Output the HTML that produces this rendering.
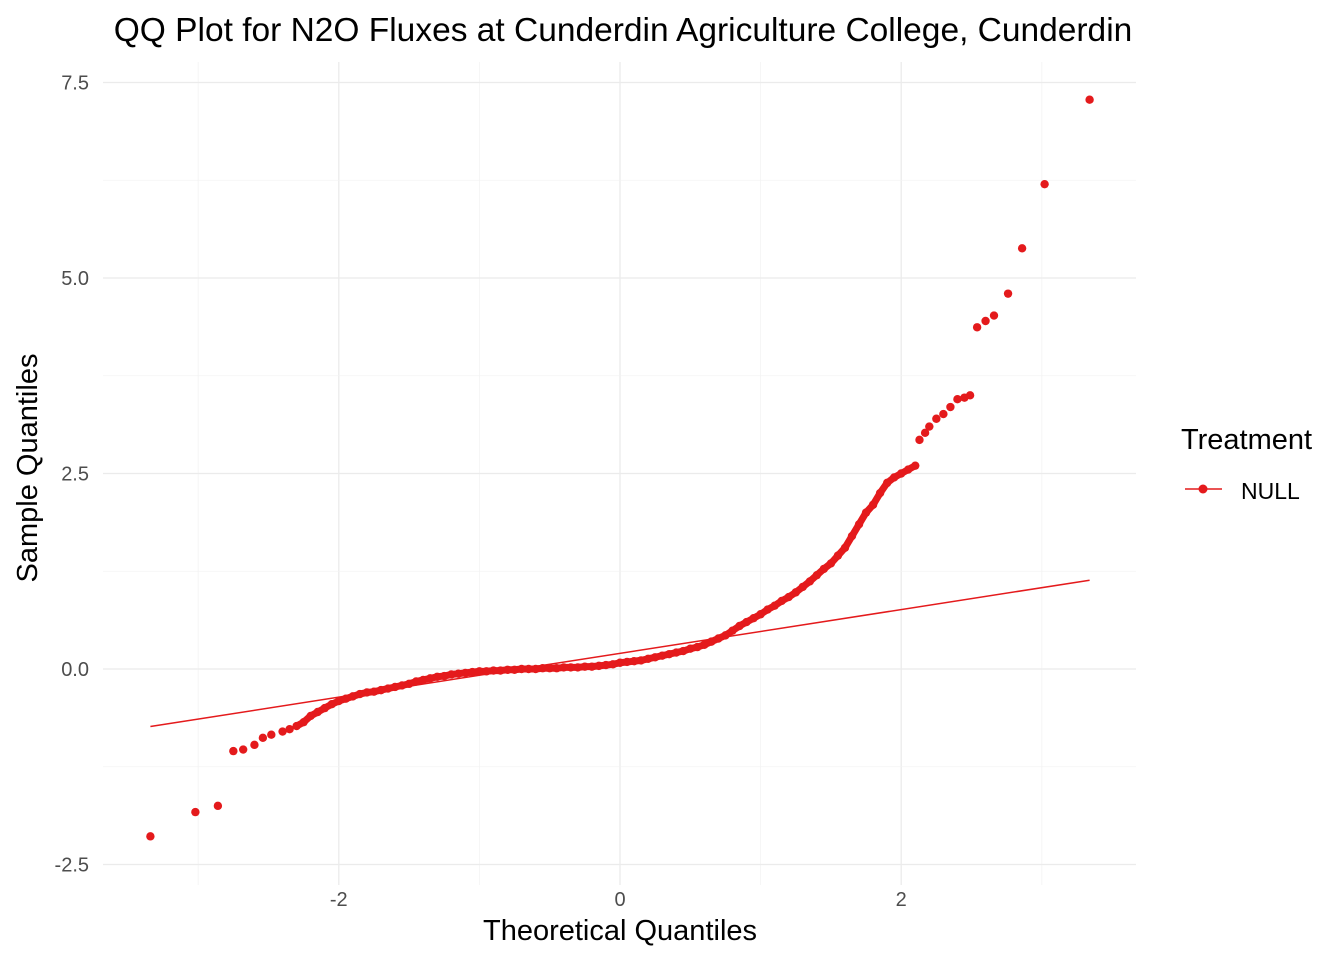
<!DOCTYPE html>
<html><head><meta charset="utf-8"><style>
body{margin:0;background:#fff}
svg{display:block;font-family:"Liberation Sans",sans-serif}
</style></head><body>
<svg id="chart" width="1344" height="960">
<text x="623" y="41" font-size="33.5" text-anchor="middle" fill="#000">QQ Plot for N2O Fluxes at Cunderdin Agriculture College, Cunderdin</text>
<g id="grid"></g><g id="ticks"></g><g id="marks"></g>
<text x="620" y="940" font-size="29" text-anchor="middle" fill="#000">Theoretical Quantiles</text>
<text transform="translate(37,468) rotate(-90)" font-size="29" text-anchor="middle" fill="#000">Sample Quantiles</text>
<g>
<text x="1181" y="449" font-size="29" fill="#000">Treatment</text>
<line x1="1185" y1="489" x2="1222" y2="489" stroke="#E41A1C" stroke-width="1.5"/>
<circle cx="1203" cy="489" r="4.5" fill="#E41A1C"/>
<text x="1241" y="499" font-size="23" fill="#000">NULL</text>
</g>
</svg>
<script>
const theoretical=[-3.34,-3.02,-2.86,-2.75,-2.68,-2.6,-2.54,-2.48,-2.4,-2.35,
-2.3,-2.25,-2.2,-2.15,-2.1,-2.05,-2.0,-1.95,-1.9,-1.85,-1.8,-1.75,-1.7,-1.65,-1.6,-1.55,-1.5,-1.45,-1.4,-1.35,-1.3,-1.25,-1.2,-1.15,-1.1,-1.05,-1.0,-0.95,-0.9,-0.85,-0.8,-0.75,-0.7,-0.65,-0.6,-0.55,-0.5,-0.45,-0.4,-0.35,-0.3,-0.25,-0.2,-0.15,-0.1,-0.05,0,0.05,0.1,0.15,0.2,0.25,0.3,0.35,0.4,0.45,0.5,0.55,0.6,0.65,0.7,0.75,0.8,0.85,0.9,0.95,1.0,1.05,1.1,1.15,1.2,1.25,1.3,1.35,1.4,1.45,1.5,1.55,1.6,1.65,1.7,1.75,1.8,1.85,1.9,1.95,2.0,2.05,2.1,
2.13,2.17,2.2,2.25,2.3,2.35,2.4,2.45,2.49,2.54,2.6,2.66,2.76,2.86,3.02,3.34];
const sample=[-2.14,-1.83,-1.75,-1.05,-1.03,-0.97,-0.88,-0.84,-0.8,-0.77,
-0.73,-0.68,-0.6,-0.55,-0.5,-0.45,-0.41,-0.38,-0.35,-0.32,-0.3,-0.29,-0.27,-0.25,-0.23,-0.21,-0.19,-0.16,-0.14,-0.12,-0.1,-0.09,-0.07,-0.06,-0.05,-0.04,-0.03,-0.03,-0.02,-0.02,-0.01,-0.01,0,0,0,0.01,0.01,0.01,0.02,0.02,0.02,0.03,0.03,0.04,0.05,0.06,0.08,0.09,0.1,0.11,0.13,0.15,0.17,0.19,0.21,0.23,0.26,0.28,0.31,0.35,0.39,0.43,0.49,0.55,0.6,0.65,0.7,0.76,0.81,0.87,0.92,0.98,1.05,1.12,1.2,1.28,1.35,1.45,1.55,1.7,1.85,2.0,2.1,2.25,2.38,2.45,2.5,2.55,2.6,
2.93,3.02,3.1,3.2,3.26,3.35,3.45,3.47,3.5,4.37,4.45,4.52,4.8,5.38,6.2,7.28];
const qqIntercept=0.2, qqSlope=0.28;
const xTicks=[-2,0,2], xTickLabels=["-2","0","2"];
const yTicks=[-2.5,0,2.5,5,7.5], yTickLabels=["-2.5","0.0","2.5","5.0","7.5"];
const xMin=-3.34, xMax=3.34;
const denseStart=10, denseEnd=98;

const X=v=>620+v*140.6, Y=v=>669-v*78.2;
const NS="http://www.w3.org/2000/svg";
function mk(tag,parent,attrs){const e=document.createElementNS(NS,tag);for(const k in attrs)e.setAttribute(k,attrs[k]);parent.appendChild(e);return e;}
const grid=document.getElementById('grid'),ticks=document.getElementById('ticks'),marks=document.getElementById('marks');
const L=103,R=1136,T=62,B=885;
for(let v=-3;v<=3;v++){const major=v%2===0;
 const g=mk('line',grid,{x1:X(v),x2:X(v),y1:T,y2:B,stroke:major?'#ebebeb':'#f3f3f3','stroke-width':major?1.3:0.8});
 
 }
for(let v=-2.5;v<=7.5;v+=1.25){const major=Math.abs(v/2.5-Math.round(v/2.5))<1e-6;
 const g=mk('line',grid,{x1:L,x2:R,y1:Y(v),y2:Y(v),stroke:major?'#ebebeb':'#f3f3f3','stroke-width':major?1.3:0.8});
 
 }
xTicks.forEach((v,i)=>{const t=mk('text',ticks,{x:X(v),y:906,'font-size':20,'text-anchor':'middle',fill:'#4d4d4d'});t.textContent=xTickLabels[i];
 
 });
yTicks.forEach((v,i)=>{const t=mk('text',ticks,{x:89,y:Y(v)+7,'font-size':20,'text-anchor':'end',fill:'#4d4d4d'});t.textContent=yTickLabels[i];
 
 });
const ln=mk('line',marks,{x1:X(xMin),y1:Y(qqIntercept+qqSlope*xMin),x2:X(xMax),y2:Y(qqIntercept+qqSlope*xMax),stroke:'#E41A1C','stroke-width':1.5});


const pts=[];for(let i=denseStart;i<=denseEnd;i++)pts.push(X(theoretical[i])+','+Y(sample[i]));
const band=mk('polyline',marks,{points:pts.join(' '),fill:'none',stroke:'#E41A1C','stroke-width':7,'stroke-linejoin':'round','stroke-linecap':'round'});


theoretical.forEach((t,i)=>{const c=mk('circle',marks,{cx:X(t),cy:Y(sample[i]),r:4.2,fill:'#E41A1C'});
 
 });
</script>
</body></html>
